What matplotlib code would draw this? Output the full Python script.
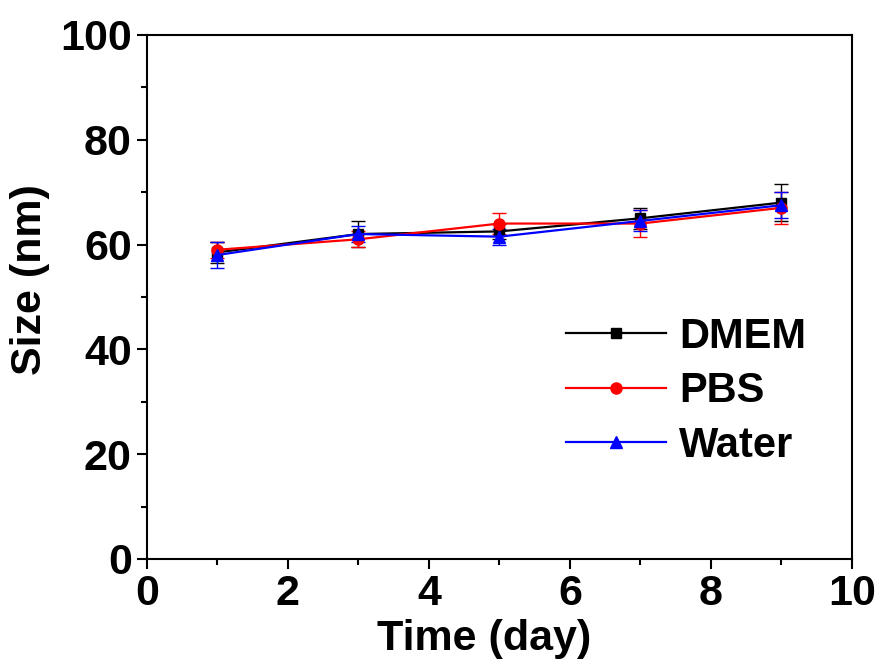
import matplotlib
matplotlib.use("Agg")
import matplotlib.pyplot as plt
from matplotlib.ticker import MultipleLocator

plt.rcParams['font.family'] = ['Liberation Sans', 'DejaVu Sans']
plt.rcParams['font.weight'] = 'bold'

days = [1, 3, 5, 7, 9]

dmem = [58.5, 62.0, 62.5, 65.0, 68.0]
dmem_err = [2.0, 2.5, 1.5, 2.0, 3.5]

pbs = [59.0, 61.0, 64.0, 64.0, 67.0]
pbs_err = [1.5, 1.5, 2.0, 2.5, 3.0]

water = [58.0, 62.0, 61.5, 64.5, 67.5]
water_err = [2.5, 1.5, 1.5, 2.0, 2.5]

fig = plt.figure(figsize=(8.8, 6.71), dpi=100)
ax = fig.add_axes([0.167, 0.167, 0.801, 0.781])

series = [
    (dmem, dmem_err, 'black', 's', 'DMEM', 7),
    (pbs, pbs_err, 'red', 'o', 'PBS', 8),
    (water, water_err, 'blue', '^', 'Water', 8),
]
for vals, err, col, mk, lab, ms in series:
    ax.errorbar(days, vals, yerr=err, color=col, marker=mk, markersize=ms,
                linewidth=1.6, elinewidth=1.0, capsize=5, capthick=1.0,
                ecolor=col, label=lab)

ax.set_xlim(0, 10)
ax.set_ylim(0, 100)
ax.xaxis.set_major_locator(MultipleLocator(2))
ax.xaxis.set_minor_locator(MultipleLocator(1))
ax.yaxis.set_major_locator(MultipleLocator(20))
ax.yaxis.set_minor_locator(MultipleLocator(10))

for sp in ax.spines.values():
    sp.set_linewidth(1.5)
ax.tick_params(which='major', direction='out', length=7, width=1.5,
               labelsize=31, pad=4)
ax.tick_params(which='minor', direction='out', length=4, width=1.5)
for lbl in ax.get_xticklabels() + ax.get_yticklabels():
    lbl.set_fontweight('bold')

ax.set_xlabel('Time (day)', fontsize=31, fontweight='bold')
ax.set_ylabel('Size (nm)', fontsize=31, fontweight='bold')
ax.xaxis.set_label_coords(0.478, -0.115)
ax.yaxis.set_label_coords(-0.137, 0.534)

handles, labels = ax.get_legend_handles_labels()
handles = [h[0] for h in handles]
ax.legend(handles, labels, loc='upper left', bbox_to_anchor=(0.595, 0.462),
          frameon=False, fontsize=30, handlelength=2.4, handletextpad=0.3,
          labelspacing=0.35, borderaxespad=0, borderpad=0)

fig.savefig('out.png', dpi=100)
